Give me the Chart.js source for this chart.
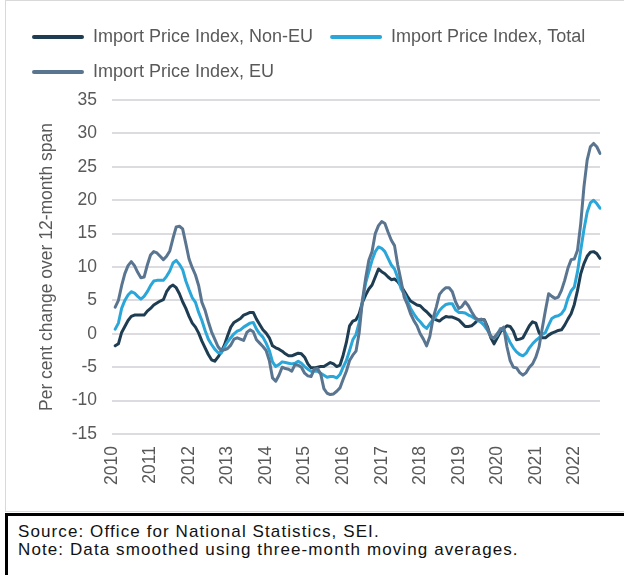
<!DOCTYPE html>
<html>
<head>
<meta charset="utf-8">
<script src="https://cdn.jsdelivr.net/npm/chart.js@4.4.1/dist/chart.umd.min.js"></script>
<style>
  html, body { margin: 0; padding: 0; background: #ffffff; width: 624px; height: 575px; overflow: hidden; }
  #frame { position: absolute; left: 5px; top: 0px; width: 640px; height: 512px; border: 1px solid #d9d9d9; box-sizing: border-box; }
  #chart { position: absolute; left: 0; top: 0; }
  #note { position: absolute; left: 5px; top: 513px; width: 640px; height: 80px; border: 3px solid #000; box-sizing: border-box;
          font-family: 'Liberation Sans', Arial, sans-serif; font-size: 17px; color: #111; line-height: 18px; padding: 7px 0 0 10px; letter-spacing: 1.1px; }
</style>
</head>
<body>
<div id="frame"></div>
<canvas id="chart" width="624" height="508"></canvas>
<div id="note">Source: Office for National Statistics, SEI.<br>Note: Data smoothed using three-month moving averages.</div>
<script>
const years = ['2010','2011','2012','2013','2014','2015','2016','2017','2018','2019','2020','2021','2022'];
const monthsInLastYear = 9;
const categories = [];
years.forEach((y, i) => {
  const n = (i === years.length - 1) ? monthsInLastYear : 12;
  for (let m = 1; m <= n; m++) categories.push(y + '-' + String(m).padStart(2, '0'));
});

const nonEU = [
  null, -1.8, -1.5, 0.2, 1.1, 2.0, 2.6, 2.8, 2.8, 2.8, 2.8, 3.4,
  3.8, 4.3, 4.6, 4.9, 5.1, 6.3, 7.0, 7.3, 6.9, 6.0, 4.8, 3.8,
  2.6, 1.6, 1.0, 0.1, -1.1, -2.1, -3.1, -3.9, -4.1, -3.5, -2.7, -1.7,
  -0.3, 1.0, 1.7, 2.0, 2.3, 2.8, 3.0, 3.2, 3.2, 2.2, 1.4, 0.6,
  0.1, -0.6, -1.8, -2.1, -2.3, -2.6, -3.0, -3.3, -3.3, -3.1, -2.9, -3.0,
  -3.5, -4.5, -5.1, -5.1, -5.0, -4.9, -4.9, -4.6, -4.3, -4.5, -4.9, -4.7,
  -3.2, -1.3, 1.2, 1.9, 2.1, 3.0, 4.7, 5.8, 6.7, 7.3, 8.5, 9.7,
  9.3, 9.0, 8.5, 8.1, 8.2, 7.8, 7.2, 6.4, 5.6, 4.9, 4.6, 4.3,
  4.2, 3.7, 3.3, 2.8, 2.3, 2.1, 1.9, 2.3, 2.6, 2.5, 2.5, 2.3,
  2.1, 1.6, 1.1, 1.1, 1.2, 1.6, 2.1, 2.1, 2.1, 1.0, -0.6, -1.5,
  -0.6, 0.3, 0.8, 1.2, 1.1, 0.4, -0.9, -0.8, -0.6, 0.3, 1.2, 1.8,
  1.6, 0.2, -0.6, -0.6, -0.2, 0.1, 0.3, 0.5, 0.6, 1.3, 2.2, 3.0,
  4.4, 6.5, 9.0, 10.5, 11.6, 12.2, 12.3, 12.0, 11.3
];
const total = [
  null, 0.7, 1.6, 3.8, 5.0, 5.8, 6.3, 6.1, 5.6, 5.2, 5.6, 6.3,
  7.2, 7.9, 8.0, 8.0, 8.0, 8.6, 9.4, 10.6, 11.0, 10.4, 9.6, 7.9,
  6.6, 5.4, 4.7, 3.2, 2.0, 0.5, -0.8, -1.6, -2.3, -2.8, -2.9, -2.0,
  -1.2, -0.6, 0.0, 0.4, 0.6, 1.0, 1.3, 1.6, 1.7, 0.7, 0.0, -0.5,
  -1.4, -2.5, -4.2, -4.9, -4.6, -4.2, -4.3, -4.4, -4.5, -4.4, -4.1, -4.4,
  -4.9, -5.3, -5.6, -5.6, -5.6, -5.9, -6.2, -6.5, -6.4, -6.4, -6.6, -6.1,
  -5.0, -4.0, -2.5, -0.9, -0.1, 1.7, 4.8, 7.6, 9.3, 11.0, 12.3, 13.0,
  12.8, 12.3, 11.3, 10.3, 9.7, 8.4, 6.8, 6.0, 4.9, 3.8, 3.0, 2.3,
  1.8, 1.2, 0.8, 1.5, 2.1, 2.7, 3.5, 4.0, 4.4, 4.5, 4.5, 3.6,
  3.2, 3.2, 3.1, 2.8, 2.6, 2.3, 2.0, 1.7, 1.2, 0.5, -0.3, -0.7,
  -0.2, 0.8, 0.6, -0.3, -1.3, -2.1, -2.7, -3.1, -3.3, -2.9, -2.1, -1.5,
  -1.0, -0.6, -0.1, 0.2, 1.3, 2.3, 2.6, 2.7, 3.0, 3.7, 5.3, 6.4,
  7.0, 9.3, 12.5, 15.6, 18.2, 19.6, 20.0, 19.5, 18.8
];
const eu = [
  null, 4.0, 5.0, 7.2, 9.0, 10.2, 10.8, 10.2, 9.2, 8.4, 8.5, 10.3,
  11.8, 12.3, 12.1, 11.6, 11.1, 11.6, 12.4, 14.3, 16.0, 16.1, 15.7, 13.5,
  11.2, 9.9, 8.8, 7.2, 4.7, 3.5, 1.8, 0.3, -0.8, -1.9, -2.5, -2.4,
  -2.2, -1.7, -0.8, -0.6, -0.8, -1.0, 0.2, 0.6, 0.3, -0.9, -1.4, -1.9,
  -2.5, -4.0, -6.6, -7.1, -6.2, -5.0, -5.2, -5.3, -5.6, -4.6, -4.7, -5.0,
  -5.9, -6.3, -6.4, -5.3, -5.2, -6.0, -8.2, -8.9, -9.1, -9.0, -8.6, -8.1,
  -6.8, -5.6, -4.0, -3.2, -2.6, 0.2, 5.0, 8.3, 11.0, 12.3, 15.0, 16.2,
  16.8, 16.5, 15.2, 14.0, 13.2, 10.3, 8.0, 5.5, 4.4, 3.0, 2.0, 1.2,
  0.0, -0.8, -1.8, -0.4, 2.3, 4.0, 5.9, 6.5, 6.9, 6.9, 6.3, 4.8,
  3.8, 4.1, 4.8, 4.2, 3.3, 2.5, 2.1, 2.2, 2.0, 0.7, -0.5, -0.6,
  0.0, 0.6, 1.0, -1.9, -4.0, -5.0, -5.1, -5.8, -6.2, -5.8, -5.0, -4.5,
  -3.5, -2.0, 0.8, 3.5, 6.0, 5.6, 5.3, 5.5, 6.5, 8.0, 9.8, 11.1,
  11.2, 12.5, 16.5, 22.0, 26.0, 28.0, 28.5, 28.0, 27.0
];
const seriesNames = ['Import Price Index, Non-EU', 'Import Price Index, Total', 'Import Price Index, EU'];
const seriesColors = ['#1f3d52', '#2aa6d9', '#5a7590'];
const yTicks = { min: -15, max: 35, step: 5 };
const yTitle = 'Per cent change over 12-month span';

const textColor = '#595959';
const fontFamily = "'Liberation Sans', Arial, sans-serif";
Chart.defaults.font.family = fontFamily;
Chart.defaults.color = textColor;

const legendSpacing = {
  id: 'legendSpacing',
  beforeInit(chart) {
    if (!chart.legend) return;
    const origFit = chart.legend.fit;
    chart.legend.fit = function () {
      origFit.call(this);
      this.height += 9;
    };
  }
};

const mk = (i, data, order) => ({
  label: seriesNames[i],
  data: data,
  borderColor: seriesColors[i],
  backgroundColor: seriesColors[i],
  borderWidth: 3,
  pointRadius: 0,
  pointHoverRadius: 0,
  tension: 0,
  borderJoinStyle: 'round',
  borderCapStyle: 'round',
  spanGaps: false,
  order: order
});

new Chart(document.getElementById('chart'), {
  type: 'line',
  data: {
    labels: categories,
    datasets: [mk(0, nonEU, 3), mk(1, total, 2), mk(2, eu, 1)]
  },
  plugins: [legendSpacing],
  options: {
    responsive: false,
    devicePixelRatio: 1,
    animation: false,
    layout: { padding: { left: 15, right: 0, top: 11, bottom: 0 } },
    plugins: {
      tooltip: { enabled: false },
      legend: {
        position: 'top',
        align: 'start',
        labels: {
          boxWidth: 52,
          boxHeight: 4,
          padding: 17,
          color: textColor,
          font: { size: 18, family: fontFamily },
          sort: (a, b) => a.datasetIndex - b.datasetIndex,
          generateLabels(chart) {
            const items = Chart.defaults.plugins.legend.labels.generateLabels(chart);
            items.forEach(it => { it.fillStyle = it.strokeStyle; it.lineWidth = 0; it.borderRadius = 2; });
            return items;
          }
        }
      }
    },
    scales: {
      x: {
        type: 'category',
        offset: false,
        grid: { display: false, drawTicks: false },
        border: { display: false },
        ticks: {
          autoSkip: false,
          maxRotation: 90,
          minRotation: 90,
          padding: 12,
          color: textColor,
          font: { size: 17.5 },
          callback: function (v, i) {
            const lab = this.getLabelForValue(v);
            return lab.endsWith('-01') ? lab.slice(0, 4) : '';
          }
        },
        afterFit: s => { s.height = 74; s.paddingRight = 0; s.paddingLeft = 0; }
      },
      y: {
        min: yTicks.min,
        max: yTicks.max,
        grid: { color: '#dcdce0', lineWidth: 2, drawTicks: false },
        border: { display: false },
        ticks: { stepSize: yTicks.step, padding: 15, color: textColor, font: { size: 17.5 } },
        title: { display: true, text: yTitle, color: textColor, font: { size: 17.5 }, padding: { top: 21.5, bottom: 0 } },
        afterFit: s => { s.width = 97; }
      },
      yr: {
        position: 'right',
        display: true,
        grid: { display: false, drawTicks: false },
        border: { display: false },
        ticks: { display: false },
        afterFit: s => { s.width = 24; }
      }
    }
  }
});
</script>
</body>
</html>
